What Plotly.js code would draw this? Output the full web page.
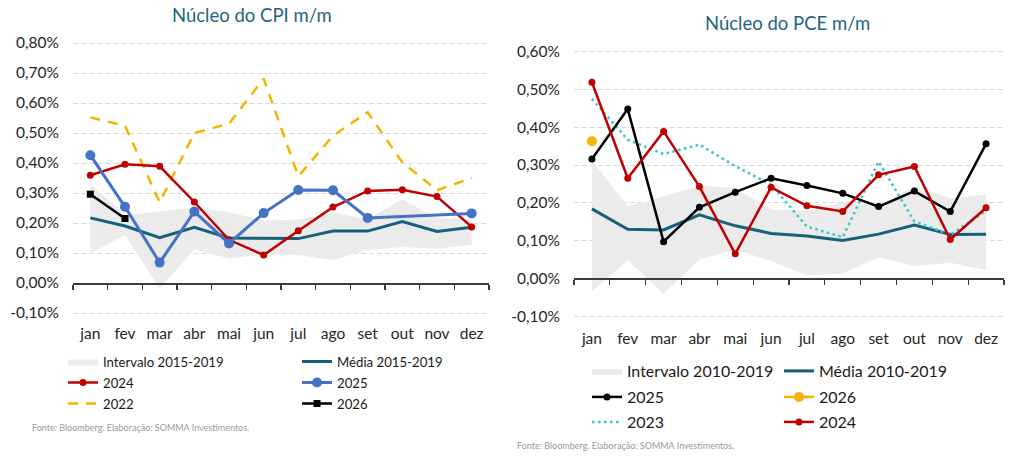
<!DOCTYPE html>
<html>
<head>
<meta charset="utf-8">
<script src="https://cdn.plot.ly/plotly-3.0.1.min.js"></script>
<style>html,body{margin:0;padding:0;background:#fff;}#chart{width:1024px;height:457px;}</style>
</head>
<body>
<div id="chart"></div>
<script>
// ---------- DATA ----------
const months = ['jan','fev','mar','abr','mai','jun','jul','ago','set','out','nov','dez'];

// CPI core m/m (%)
const cpiBandLow  = [0.099, 0.160, -0.018, 0.112, 0.082, 0.095, 0.093, 0.077, 0.110, 0.120, 0.114, 0.127];
const cpiBandHigh = [0.332, 0.227, 0.238, 0.252, 0.236, 0.208, 0.212, 0.236, 0.211, 0.279, 0.216, 0.212];
const cpiMean     = [0.217, 0.190, 0.151, 0.186, 0.150, 0.150, 0.148, 0.173, 0.173, 0.205, 0.172, 0.186];
const cpi2024     = [0.359, 0.396, 0.389, 0.270, 0.144, 0.093, 0.174, 0.253, 0.307, 0.311, 0.288, 0.187];
const cpi2025     = [0.426, 0.254, 0.068, 0.238, 0.132, 0.233, 0.310, 0.309, 0.217, null, null, 0.232];
const cpi2022     = [0.552, 0.524, 0.269, 0.500, 0.531, 0.681, 0.356, 0.491, 0.569, 0.402, 0.309, 0.350];
const cpi2026     = [0.296, 0.215, null, null, null, null, null, null, null, null, null, null];

// PCE core m/m (%)
const pceBandLow  = [-0.035, 0.047, -0.040, 0.050, 0.076, 0.046, 0.008, 0.012, 0.056, 0.033, 0.041, 0.022];
const pceBandHigh = [0.312, 0.190, 0.217, 0.245, 0.239, 0.182, 0.178, 0.200, 0.193, 0.243, 0.212, 0.222];
const pceMean     = [0.184, 0.130, 0.128, 0.168, 0.139, 0.119, 0.112, 0.100, 0.117, 0.141, 0.116, 0.117];
const pce2025     = [0.316, 0.448, 0.097, 0.188, 0.228, 0.265, 0.246, 0.225, 0.190, 0.231, 0.177, 0.356];
const pce2026     = [0.363, null, null, null, null, null, null, null, null, null, null, null];
const pce2023     = [0.475, 0.367, 0.329, 0.354, 0.297, 0.248, 0.137, 0.109, 0.309, 0.151, 0.115, 0.179];
const pce2024     = [0.519, 0.265, 0.389, 0.243, 0.065, 0.241, 0.192, 0.177, 0.274, 0.296, 0.103, 0.187];

// tick labels
const cpiTickVals = [-0.1, 0, 0.1, 0.2, 0.3, 0.4, 0.5, 0.6, 0.7, 0.8];
const cpiTickText = ['-0,10%','0,00%','0,10%','0,20%','0,30%','0,40%','0,50%','0,60%','0,70%','0,80%'];
const pceTickVals = [-0.1, 0, 0.1, 0.2, 0.3, 0.4, 0.5, 0.6];
const pceTickText = ['-0,10%','0,00%','0,10%','0,20%','0,30%','0,40%','0,50%','0,60%'];

// ---------- STYLE ----------
const RED = '#C00000', BLUE = '#4472C4', GOLD = '#F5B400', TEAL = '#16607C',
      BAND = '#EBEBEB', CYAN = '#33C6CC', BLACK = '#000000', TITLE = '#1F6381';
const FONT = 'Lato, "Open Sans", sans-serif';

function sc(x, y, name, opts) {
  return Object.assign({type:'scatter', x:x, y:y, name:name, hoverinfo:'skip'}, opts);
}

const traces = [
  // ---- CPI ----
  sc(months, cpiBandLow, 'low', {mode:'lines', line:{width:0, color:BAND}, showlegend:false, xaxis:'x', yaxis:'y'}),
  sc(months, cpiBandHigh, 'Intervalo 2015-2019', {mode:'lines', fill:'tonexty', fillcolor:BAND, line:{width:0, color:BAND}, xaxis:'x', yaxis:'y', legend:'legend'}),
  sc(months, cpiMean, 'Média 2015-2019', {mode:'lines', line:{width:3, color:TEAL}, xaxis:'x', yaxis:'y', legend:'legend'}),
  sc(months, cpi2022, '2022', {mode:'lines', line:{width:2.5, color:GOLD, dash:'10px,8px'}, xaxis:'x', yaxis:'y', legend:'legend3'}),
  sc(months, cpi2024, '2024', {mode:'lines+markers', line:{width:2.5, color:RED}, marker:{size:7, color:RED}, xaxis:'x', yaxis:'y', legend:'legend2'}),
  sc(months, cpi2025, '2025', {mode:'lines+markers', connectgaps:true, line:{width:3, color:BLUE}, marker:{size:10, color:BLUE}, xaxis:'x', yaxis:'y', legend:'legend2'}),
  sc(months, cpi2026, '2026', {mode:'lines+markers', line:{width:2.5, color:BLACK}, marker:{size:7, symbol:'square', color:BLACK}, xaxis:'x', yaxis:'y', legend:'legend3'}),
  // ---- PCE ----
  sc(months, pceBandLow, 'low', {mode:'lines', line:{width:0, color:BAND}, showlegend:false, xaxis:'x2', yaxis:'y2'}),
  sc(months, pceBandHigh, 'Intervalo 2010-2019', {mode:'lines', fill:'tonexty', fillcolor:BAND, line:{width:0, color:BAND}, xaxis:'x2', yaxis:'y2', legend:'legend4'}),
  sc(months, pceMean, 'Média 2010-2019', {mode:'lines', line:{width:3, color:TEAL}, xaxis:'x2', yaxis:'y2', legend:'legend4'}),
  sc(months, pce2023, '2023', {mode:'lines', line:{width:2.5, color:CYAN, dash:'2.5px,3.5px'}, xaxis:'x2', yaxis:'y2', legend:'legend6'}),
  sc(months, pce2025, '2025', {mode:'lines+markers', line:{width:2.5, color:BLACK}, marker:{size:7, color:BLACK}, xaxis:'x2', yaxis:'y2', legend:'legend5'}),
  sc(months, pce2026, '2026', {mode:'lines+markers', line:{width:2.5, color:GOLD}, marker:{size:10, color:GOLD}, xaxis:'x2', yaxis:'y2', legend:'legend5'}),
  sc(months, pce2024, '2024', {mode:'lines+markers', line:{width:2.5, color:RED}, marker:{size:7, color:RED}, xaxis:'x2', yaxis:'y2', legend:'legend6'}),
  // dummy traces to host the zero-line axes
  sc(months, months.map(()=>null), 'ax', {mode:'lines', showlegend:false, xaxis:'x3', yaxis:'y'}),
  sc(months, months.map(()=>null), 'ax', {mode:'lines', showlegend:false, xaxis:'x4', yaxis:'y2'})
];

const W = 1024, H = 457;
const cpiRange = [-0.11, 0.81], pceRange = [-0.11, 0.61];
const cpiDom = [1 - 316/H, 1 - 40/H];
const pceDom = [1 - 319.9/H, 1 - 47.9/H];
const xDomL = [73/W, 489/W], xDomR = [574/W, 1004/W];
function zeroPos(dom, rng) { return dom[0] + (dom[1]-dom[0]) * (0 - rng[0])/(rng[1]-rng[0]); }

const axisFont = {family: FONT, size: 15.5, color: '#262626'};
const catX = (dom, so) => ({domain: dom, type:'category', categoryorder:'array', categoryarray: months,
  range:[-0.5, 11.5], showline:false, ticks:'', showgrid:false, zeroline:false, fixedrange:true,
  tickfont: axisFont, ticklabelstandoff: so});
const zeroX = (over, dom, pos) => ({overlaying: over, anchor:'free', position: pos, domain: dom,
  type:'category', categoryorder:'array', categoryarray: months, range:[-0.5, 11.5],
  showline:true, linecolor:'#3a3a3a', linewidth:1.5, ticks:'outside', tickson:'boundaries',
  ticklen:5, tickwidth:1.2, tickcolor:'#3a3a3a', showticklabels:false, showgrid:false, zeroline:false});
const valY = (dom, rng, tv, tt) => ({domain: dom, range: rng, tickvals: tv, ticktext: tt,
  showline:false, ticks:'', zeroline:false, showgrid:true, gridcolor:'#D9D9D9', gridwidth:1,
  griddash:'5px,3px', tickfont: axisFont, ticklabelstandoff: 13, fixedrange:true});

const legL = {family: FONT, size: 13.2, color:'#1a1a1a'};
const legR = {family: FONT, size: 16, color:'#1a1a1a'};
const mkLeg = (x, y, font, ew) => ({orientation:'h', x: x, y: y, xanchor:'left', yanchor:'middle',
  font: font, entrywidth: ew, entrywidthmode:'pixels', bgcolor:'rgba(0,0,0,0)', borderwidth:0,
  traceorder:'normal', itemclick:false, itemdoubleclick:false});

const layout = {
  width: W, height: H,
  margin: {l:0, r:0, t:0, b:0},
  paper_bgcolor:'#ffffff', plot_bgcolor:'#ffffff',
  font: {family: FONT},
  showlegend: true,
  xaxis: catX(xDomL, 6),
  yaxis: valY(cpiDom, cpiRange, cpiTickVals, cpiTickText),
  xaxis2: Object.assign(catX(xDomR, 8), {anchor:'y2'}),
  yaxis2: Object.assign(valY(pceDom, pceRange, pceTickVals, pceTickText), {anchor:'x2'}),
  xaxis3: zeroX('x', xDomL, zeroPos(cpiDom, cpiRange)),
  xaxis4: zeroX('x2', xDomR, zeroPos(pceDom, pceRange)),
  legend:  mkLeg(63/W, 1 - 362/H, legL, 189),
  legend2: mkLeg(63/W, 1 - 383/H, legL, 189),
  legend3: mkLeg(63/W, 1 - 404/H, legL, 189),
  legend4: mkLeg(587/W, 1 - 371/H, legR, 147),
  legend5: mkLeg(587/W, 1 - 397/H, legR, 147),
  legend6: mkLeg(587/W, 1 - 422/H, legR, 147),
  annotations: [
    {text:'Núcleo do CPI m/m', xref:'paper', yref:'paper', x:252/W, y:1-15/H, xanchor:'center', yanchor:'middle',
     showarrow:false, font:{family:FONT, size:18.5, color:TITLE}},
    {text:'Núcleo do PCE m/m', xref:'paper', yref:'paper', x:787/W, y:1-23/H, xanchor:'center', yanchor:'middle',
     showarrow:false, font:{family:FONT, size:18.5, color:TITLE}},
    {text:'Fonte: Bloomberg. Elaboração: SOMMA Investimentos.', xref:'paper', yref:'paper', x:30/W, y:1-427/H,
     xanchor:'left', yanchor:'middle', showarrow:false, font:{family:FONT, size:9, color:'#9a9a9a'}},
    {text:'Fonte: Bloomberg. Elaboração: SOMMA Investimentos.', xref:'paper', yref:'paper', x:515/W, y:1-445/H,
     xanchor:'left', yanchor:'middle', showarrow:false, font:{family:FONT, size:9, color:'#9a9a9a'}}
  ]
};

Plotly.newPlot('chart', traces, layout, {staticPlot:true, displayModeBar:false});
</script>
</body>
</html>
